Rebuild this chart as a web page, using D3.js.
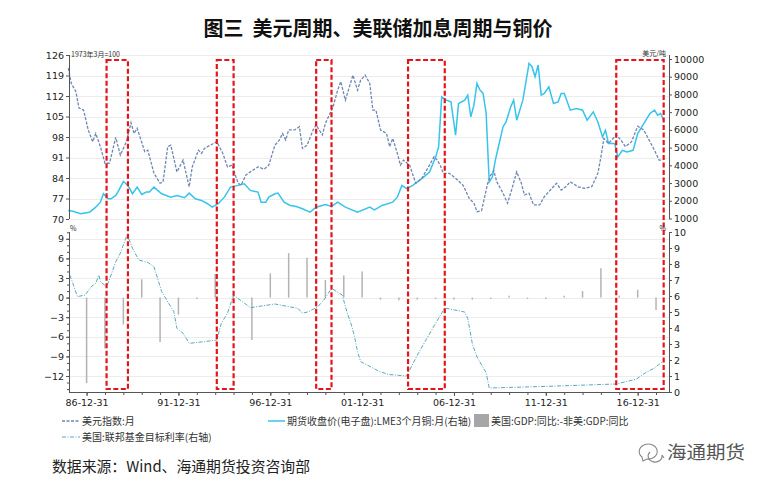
<!DOCTYPE html>
<html><head><meta charset="utf-8">
<script src="https://cdn.jsdelivr.net/npm/d3@7"></script>
<style>body{margin:0;background:#fff}svg{display:block}</style>
</head><body>
<svg id="c" width="764" height="485"></svg>
<script>
// ---------------- DATA ----------------
const dollarDates = ["1986-01","1986-03","1986-06","1986-08","1986-11","1987-02","1987-05","1987-07","1987-10","1988-01","1988-04","1988-08","1988-11","1989-03","1989-06","1989-08","1989-10","1990-03","1990-05","1990-09","1991-01","1991-03","1991-06","1991-08","1991-12","1992-04","1992-08","1992-10","1993-02","1993-04","1993-06","1993-08","1994-02","1994-06","1994-09","1994-12","1995-04","1995-06","1995-09","1995-12","1996-05","1996-09","1996-12","1997-04","1997-07","1997-09","1997-11","1998-01","1998-05","1998-08","1998-10","1999-01","1999-05","1999-07","1999-11","2000-01","2000-06","2000-09","2000-11","2001-02","2001-07","2001-10","2001-12","2002-03","2002-06","2002-08","2002-10","2003-01","2003-05","2003-07","2003-09","2003-12","2004-02","2004-04","2004-08","2004-12","2005-04","2005-09","2005-12","2006-02","2006-04","2006-06","2006-10","2007-02","2007-07","2007-11","2008-02","2008-04","2008-07","2008-11","2009-01","2009-03","2009-05","2009-09","2009-12","2010-03","2010-06","2010-09","2010-11","2011-02","2011-05","2011-09","2011-12","2012-04","2012-08","2012-11","2013-02","2013-05","2013-10","2014-02","2014-07","2014-11","2015-01","2015-03","2015-06","2015-11","2016-02","2016-05","2016-09","2017-01","2017-05","2017-09","2017-12","2018-03","2018-05"];
const dollarValues = [121.5,116.3,113.5,107.9,107.2,100.4,96.4,99.2,94.7,89.0,89.1,97.9,91.8,96.4,102.9,99.2,101.0,93.0,93.5,85.6,82.2,82.7,94.7,95.2,86.1,90.1,81.0,87.8,93.5,92.4,94.1,94.7,96.4,92.4,87.8,88.4,82.2,81.6,85.0,86.1,87.8,87.0,88.4,95.2,97.0,99.2,97.0,100.4,100.4,101.5,94.1,95.2,100.4,102.1,98.7,102.7,108.3,114.0,116.9,110.6,119.1,114.0,117.4,119.1,116.3,107.2,107.2,100.4,99.2,94.7,97.5,92.4,88.4,90.1,88.4,82.2,83.9,88.4,91.3,90.1,88.4,85.6,85.6,83.9,81.5,77.0,75.4,72.5,72.8,82.2,85.0,86.5,82.7,78.8,75.4,80.5,86.1,82.2,78.2,78.8,74.8,74.8,77.6,79.9,82.2,79.9,81.0,82.7,81.0,80.5,81.0,85.6,91.3,97.5,95.8,98.7,97.0,94.7,96.4,101.7,100.4,96.4,93.5,90.1,90.1];

const copperDates = ["1986-01","1986-04","1986-09","1987-03","1987-07","1987-10","1987-12","1988-03","1988-05","1988-08","1988-10","1989-01","1989-04","1989-07","1989-10","1990-01","1990-04","1990-06","1990-09","1991-02","1991-08","1991-12","1992-05","1992-08","1992-12","1993-04","1993-08","1993-11","1994-03","1994-07","1994-11","1995-04","1995-08","1995-12","1996-05","1996-07","1996-10","1996-12","1997-04","1997-06","1997-10","1998-02","1998-06","1998-10","1999-03","1999-07","2000-01","2000-05","2000-09","2001-02","2001-10","2002-06","2002-09","2003-02","2003-09","2003-12","2004-03","2004-06","2004-10","2005-04","2005-09","2006-01","2006-03","2006-05","2006-08","2006-11","2007-02","2007-04","2007-08","2007-10","2007-12","2008-02","2008-04","2008-06","2008-08","2008-10","2008-12","2009-02","2009-04","2009-06","2009-09","2009-11","2010-02","2010-04","2010-06","2010-10","2010-12","2011-02","2011-04","2011-06","2011-08","2011-10","2011-12","2012-03","2012-06","2012-09","2012-11","2013-01","2013-05","2013-09","2014-01","2014-04","2014-08","2014-11","2015-02","2015-04","2015-06","2015-10","2015-12","2016-03","2016-06","2016-10","2017-01","2017-05","2017-09","2017-12","2018-02","2018-04","2018-06"];
const copperValues = [1450,1413,1266,1356,1640,1922,2398,2115,2115,2300,2585,3094,2868,2398,2771,2358,2490,2490,2771,2398,2205,2302,2171,2432,2115,2019,1832,1640,1832,2205,2771,2868,2960,2585,2490,1922,1922,2205,2398,2432,1922,1736,1679,1549,1356,1640,1792,1679,1922,1640,1356,1640,1492,1736,1922,2205,2868,2680,2868,3247,3620,4469,5035,7865,7678,7582,5697,7490,7678,7960,6733,7395,8623,8244,8057,6925,3054,3337,4282,5035,6167,6450,7299,7678,6546,7678,8713,9755,9565,8996,9660,7960,8057,8430,7490,7582,8057,8057,7112,7208,7112,6546,7016,6450,5601,5980,5228,5228,4469,4848,4752,4848,5793,6359,6925,7112,6829,6925,6546];

const fedDates = ["1986-02","1986-04","1986-07","1986-12","1987-04","1987-07","1987-09","1987-10","1988-02","1988-05","1988-08","1988-11","1989-03","1989-04","1989-07","1989-11","1990-05","1990-09","1991-02","1991-06","1991-10","1991-12","1992-04","1992-08","1993-06","1994-02","1994-05","1994-09","1995-01","1995-12","1997-04","1998-07","1998-10","1999-02","1999-08","1999-12","2000-05","2000-12","2001-03","2001-06","2001-08","2001-10","2001-12","2002-12","2003-06","2004-06","2005-01","2005-07","2006-01","2006-07","2007-08","2007-10","2008-01","2008-04","2008-10","2008-12","2012-01","2015-11","2016-12","2017-06","2017-12","2018-06"];
const fedValues = [7.3,6.8,5.96,6.06,6.58,6.79,7.31,6.9,6.58,7.31,8.14,8.67,9.71,9.71,8.98,8.25,8.1,7.83,6.27,5.64,5.02,3.98,3.67,3.04,3.15,3.25,4.29,4.92,6.06,5.27,5.5,5.23,4.92,5.02,5.33,5.75,6.48,6.06,5.02,4.19,3.46,2.52,1.9,1.3,1.1,1.0,2.3,3.3,4.3,5.25,5.0,4.6,3.0,2.2,1.2,0.25,0.35,0.5,0.8,1.2,1.5,1.96];

const gdpYears = [1986,1987,1988,1989,1990,1991,1992,1993,1994,1995,1996,1997,1998,1999,2000,2001,2002,2003,2004,2005,2006,2007,2008,2009,2010,2011,2012,2013,2014,2015,2016,2017];
const gdpDiff  = [-13.1,-7.8,-4.1,2.8,-6.8,-2.6,-0.2,3.6,0.2,-6.5,3.7,6.8,6.1,2.7,3.4,4.0,-0.3,-0.4,-0.3,-0.2,-0.3,-0.3,-0.2,0.3,-0.2,-0.2,0.3,1.0,4.5,0.3,1.2,-1.9];

const hikeStart = ["1988-02","1994-02","1999-07","2004-07","2015-11"];
const hikeEnd   = ["1989-04","1995-01","2000-05","2006-07","2018-06"];

const dollarTicks = [70,77,84,91,98,105,112,119,126];
const copperTicks = [1000,2000,3000,4000,5000,6000,7000,8000,9000,10000];
const gdpTicks = [-12,-9,-6,-3,0,3,6,9];
const fedTicks = [0,1,2,3,4,5,6,7,8,9,10];
const xTickYears = [1986,1991,1996,2001,2006,2011,2016];

const titleText = "图三  美元周期、美联储加息周期与铜价";
const legendLabels = ["美元指数:月","期货收盘价(电子盘):LME3个月铜:月(右轴)","美国:GDP:同比:-非美:GDP:同比","美国:联邦基金目标利率(右轴)"];
const sourceText = "数据来源：Wind、海通期货投资咨询部";

// ---------------- CHART ----------------
const parse = d3.timeParse("%Y-%m");
const svg = d3.select("#c");
const C = {dollar:"#6f86b3", copper:"#37c4ea", fed:"#5aa7bd", bar:"#b3b3b3", red:"#e3141c", axis:"#555"};
const numFont = "'DejaVu Sans', Verdana, sans-serif";
const cjk = "'Noto Sans CJK SC', 'Noto Sans', sans-serif";

const L = 69, R = 669;
const x = d3.scaleTime().domain([new Date(1986,0,15), new Date(2018,8,15)]).range([L, R]);
const yD = d3.scaleLinear().domain([70,126]).range([219,55]);
const yC = d3.scaleLinear().domain([1000,10000]).range([218.5,59]);
const yG = d3.scaleLinear().domain([-12,9]).range([376,238.8]);
const yF = d3.scaleLinear().domain([0,10]).range([392,232]);
const botTop = 232, botBot = 392;

// grid lines
const grid = svg.append("g").attr("stroke","#ececec").attr("stroke-width",1);
dollarTicks.forEach(t=>grid.append("line").attr("x1",L).attr("x2",R).attr("y1",Math.round(yD(t))+0.5).attr("y2",Math.round(yD(t))+0.5));
gdpTicks.forEach(t=>grid.append("line").attr("x1",L).attr("x2",R).attr("y1",Math.round(yG(t))+0.5).attr("y2",Math.round(yG(t))+0.5));

// GDP bars
svg.append("g").selectAll("line").data(gdpYears).join("line")
  .attr("x1",(d)=>x(new Date(d,11,31))).attr("x2",(d)=>x(new Date(d,11,31)))
  .attr("y1",yG(0)).attr("y2",(d,i)=>yG(gdpDiff[i]))
  .attr("stroke",C.bar).attr("stroke-width",1.5);

// lines
const dollarData = dollarDates.map((d,i)=>({t:parse(d),v:dollarValues[i]}));
const copperData = copperDates.map((d,i)=>({t:parse(d),v:copperValues[i]}));
const fedData = fedDates.map((d,i)=>({t:parse(d),v:fedValues[i]}));

svg.append("path").datum(copperData)
  .attr("d",d3.line().x(d=>x(d.t)).y(d=>yC(d.v)))
  .attr("fill","none").attr("stroke",C.copper).attr("stroke-width",1.5);
svg.append("path").datum(dollarData)
  .attr("d",d3.line().x(d=>x(d.t)).y(d=>yD(d.v)))
  .attr("fill","none").attr("stroke",C.dollar).attr("stroke-width",1.3).attr("stroke-dasharray","3,1.5");
svg.append("path").datum(fedData)
  .attr("d",d3.line().x(d=>x(d.t)).y(d=>yF(d.v)))
  .attr("fill","none").attr("stroke",C.fed).attr("stroke-width",1).attr("stroke-dasharray","4,1.5,1,1.5");

// axes
function styleAxis(g){
  g.selectAll("path,line").attr("stroke",C.axis);
  g.selectAll("text").attr("font-family",numFont).attr("font-size","9.5px").attr("fill","#222");
}
svg.append("g").attr("transform",`translate(${L},0)`)
  .call(d3.axisLeft(yD).tickValues(dollarTicks).tickSize(3).tickPadding(2).tickSizeOuter(0)).call(styleAxis).select(".domain").remove();
svg.append("g").attr("transform",`translate(${R},0)`)
  .call(d3.axisRight(yC).tickValues(copperTicks).tickSize(3).tickPadding(2).tickSizeOuter(0).tickFormat(d3.format("d"))).call(styleAxis).select(".domain").remove();
svg.append("line").attr("x1",L+0.5).attr("x2",L+0.5).attr("y1",55).attr("y2",219).attr("stroke",C.axis);
svg.append("line").attr("x1",R+0.5).attr("x2",R+0.5).attr("y1",55).attr("y2",219).attr("stroke",C.axis);

// bottom axes
const gdpMinor = d3.range(-14,11,1);
svg.append("g").attr("transform",`translate(${L},0)`)
  .call(d3.axisLeft(yG).tickValues(gdpMinor).tickSize(2).tickFormat("")).call(styleAxis).select(".domain").remove();
svg.append("g").attr("transform",`translate(${L},0)`)
  .call(d3.axisLeft(yG).tickValues(gdpTicks).tickSize(3).tickPadding(2)).call(styleAxis).select(".domain").remove();
svg.append("g").attr("transform",`translate(${R},0)`)
  .call(d3.axisRight(yF).tickValues(fedTicks).tickSize(3).tickPadding(2)).call(styleAxis).select(".domain").remove();
svg.append("line").attr("x1",L+0.5).attr("x2",L+0.5).attr("y1",botTop).attr("y2",botBot).attr("stroke",C.axis);
svg.append("line").attr("x1",R+0.5).attr("x2",R+0.5).attr("y1",botTop).attr("y2",botBot).attr("stroke",C.axis);

// x axis
const yearTicks = d3.range(1986,2018).map(y=>new Date(y,11,31));
svg.append("g").attr("transform",`translate(0,${botBot})`)
  .call(d3.axisBottom(x).tickValues(yearTicks).tickSize(3).tickFormat("")).call(styleAxis).select(".domain").remove();
svg.append("g").attr("transform",`translate(0,${botBot})`)
  .call(d3.axisBottom(x).tickValues(xTickYears.map(y=>new Date(y,11,31))).tickSize(4).tickPadding(3).tickFormat(d3.timeFormat("%y-%m-%d"))).call(styleAxis).select(".domain").remove();
svg.append("line").attr("x1",L).attr("x2",R+1).attr("y1",botBot+0.5).attr("y2",botBot+0.5).attr("stroke",C.axis);

// red dashed boxes
svg.append("g").selectAll("rect").data(hikeStart).join("rect")
  .attr("x",d=>x(parse(d))).attr("width",(d,i)=>x(parse(hikeEnd[i]))-x(parse(d)))
  .attr("y",60).attr("height",329)
  .attr("fill","none").attr("stroke",C.red).attr("stroke-width",2.2).attr("stroke-dasharray","5,2.5");

// small unit labels
const small = (t,xx,yy,anchor)=>svg.append("text").text(t).attr("x",xx).attr("y",yy).attr("font-family",cjk).attr("font-size","7px").attr("fill","#333").attr("text-anchor",anchor||"start");
small("1973年3月=100",71,57);
small("美元/吨",666,56,"end");
small("%",70,231);
small("%",666,231,"end");

// title
svg.append("text").text(titleText).attr("x",378).attr("y",36).attr("text-anchor","middle")
  .attr("font-family",cjk).attr("font-weight","bold").attr("font-size","20px").attr("fill","#111").style("white-space","pre");

// legend
const lg = svg.append("g").attr("font-family",cjk).attr("font-size","10px").attr("fill","#333");
lg.append("line").attr("x1",62).attr("x2",80).attr("y1",421).attr("y2",421).attr("stroke",C.dollar).attr("stroke-width",1.3).attr("stroke-dasharray","3,1.5");
lg.append("text").text(legendLabels[0]).attr("x",82).attr("y",425);
lg.append("line").attr("x1",268).attr("x2",285).attr("y1",421).attr("y2",421).attr("stroke",C.copper).attr("stroke-width",1.5);
lg.append("text").text(legendLabels[1]).attr("x",287).attr("y",425);
lg.append("rect").attr("x",474).attr("y",414).attr("width",15).attr("height",13).attr("fill","#a6a6a6");
lg.append("text").text(legendLabels[2]).attr("x",491).attr("y",425);
lg.append("line").attr("x1",62).attr("x2",80).attr("y1",437).attr("y2",437).attr("stroke",C.fed).attr("stroke-width",1).attr("stroke-dasharray","4,1.5,1,1.5");
lg.append("text").text(legendLabels[3]).attr("x",82).attr("y",441);

// source
svg.append("text").text(sourceText).attr("x",52).attr("y",472).attr("font-family",cjk).attr("font-size","15px").attr("fill","#222").attr("textLength",258).attr("lengthAdjust","spacingAndGlyphs");

// watermark
const wm = svg.append("g").attr("stroke","#888").attr("fill","none").attr("stroke-width",1.1);
wm.append("path").attr("d","M642,457 a9,7.5 0 1,1 5,2 l-4,2 z");
wm.append("path").attr("d","M650,452 a7,6 0 1,0 12,3 l2,3");
svg.append("text").text("海通期货").attr("x",667).attr("y",459).attr("font-family",cjk).attr("font-size","18px").attr("fill","#555").attr("textLength",78).attr("lengthAdjust","spacingAndGlyphs");
</script>
</body></html>
